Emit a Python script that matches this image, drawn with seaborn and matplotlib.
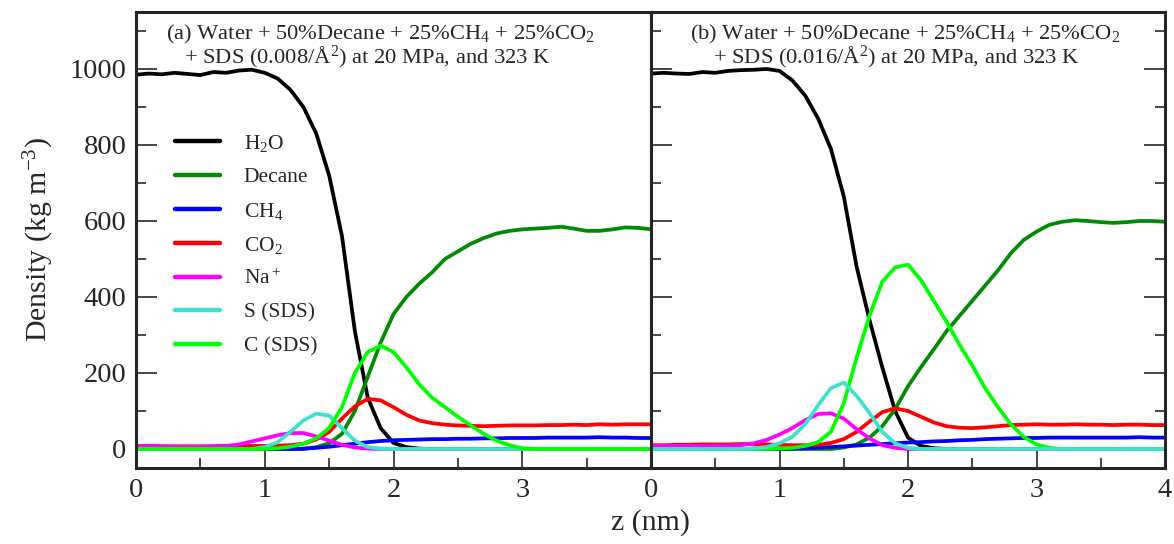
import numpy as np
import pandas as pd
import matplotlib
matplotlib.use("Agg")
import matplotlib.pyplot as plt
from matplotlib.ticker import MultipleLocator
import seaborn as sns

# ---------------- data ----------------
z = np.round(np.arange(0, 4.0001, 0.1), 2)

labels = ["H$_2$O", "Decane", "CH$_4$", "CO$_2$", "Na$^+$", "S (SDS)", "C (SDS)"]
colors = ["#000000", "#008b00", "#0000ff", "#ff0000", "#ff00ff", "#40e0d0", "#00ff00"]

# panel (a)
h2o_a = [985, 988, 986, 990, 987, 984, 992, 990, 996, 998, 990, 975, 945, 900, 830, 720,
         560, 310, 135, 55, 16, 5, 1] + [0] * 18
decane_a = [0] * 14 + [5, 15, 40, 100, 190, 280, 355, 400, 435, 465, 500, 520, 540, 555, 567,
                       574, 578, 580, 582, 585, 580, 574, 574, 578, 583, 582, 578]
ch4_a = [0] * 13 + [1, 3, 6, 10, 14, 18, 21, 23, 24, 25, 26, 26, 27, 27, 28, 28, 29, 29, 29,
                    30, 30, 30, 30, 31, 30, 30, 29, 29]
co2_a = [8, 8, 7, 7, 7, 7, 7, 8, 8, 8, 8, 9, 10, 14, 25, 45, 80, 112, 132, 128, 110, 90, 75,
         68, 64, 62, 61, 60, 61, 62, 62, 62, 63, 63, 64, 63, 65, 64, 65, 65, 65]
na_a = [8, 8, 7, 6, 6, 6, 7, 8, 12, 20, 28, 36, 42, 42, 33, 22, 11, 4, 1] + [0] * 22
s_a = [0] * 10 + [5, 18, 45, 75, 93, 88, 55, 22, 5, 1] + [0] * 21
c_a = [0] * 11 + [2, 6, 14, 28, 55, 110, 200, 255, 272, 255, 215, 170, 135, 110, 85, 62, 40,
                  22, 10, 2] + [0] * 10

# panel (b)
h2o_b = [988, 990, 988, 987, 992, 990, 995, 997, 998, 1000, 995, 970, 930, 870, 790, 665,
         480, 340, 215, 100, 30, 8, 2] + [0] * 18
decane_b = [0] * 15 + [4, 12, 30, 60, 105, 165, 215, 262, 310, 350, 390, 430, 470, 515, 550,
                       572, 590, 598, 602, 600, 597, 595, 597, 600, 600, 598]
ch4_b = [0] * 11 + [1, 2, 4, 5, 7, 9, 11, 13, 15, 17, 18, 20, 21, 23, 24, 26, 27, 28, 29, 29,
                    30, 30, 30, 30, 30, 30, 30, 31, 30, 30]
co2_b = [10, 10, 11, 11, 12, 12, 12, 13, 13, 12, 11, 10, 10, 11, 16, 26, 45, 72, 97, 107, 100,
         85, 70, 60, 56, 55, 57, 60, 63, 64, 65, 64, 64, 65, 64, 64, 63, 64, 64, 63, 63]
na_b = [8, 8, 8, 8, 8, 8, 9, 10, 15, 24, 38, 55, 76, 92, 94, 80, 52, 28, 10, 3] + [0] * 21
s_b = [0] * 8 + [2, 5, 15, 32, 65, 115, 160, 175, 140, 95, 45, 15, 3] + [0] * 20
c_b = [0] * 10 + [1, 3, 8, 18, 45, 120, 240, 350, 440, 478, 485, 445, 390, 335, 275, 220, 160,
                  110, 65, 32, 12, 3] + [0] * 9

title_a = ["(a) Water + 50%Decane + 25%CH$_4$ + 25%CO$_2$",
           "+ SDS (0.008/Å$^2$) at 20 MPa, and 323 K"]
title_b = ["(b) Water + 50%Decane + 25%CH$_4$ + 25%CO$_2$",
           "+ SDS (0.016/Å$^2$) at 20 MPa, and 323 K"]

# ---------------- style ----------------
sns.set_style("ticks")
plt.rcParams["font.family"] = ["Liberation Serif", "DejaVu Serif"]
plt.rcParams["mathtext.fontset"] = "custom"
plt.rcParams["mathtext.rm"] = "Liberation Serif"
plt.rcParams["mathtext.it"] = "Liberation Serif:italic"
plt.rcParams["mathtext.bf"] = "Liberation Serif:bold"

fig = plt.figure(figsize=(11.74, 5.44), dpi=100)
W, H = 1174, 544
ax1 = fig.add_axes([136 / W, 1 - 468 / H, 515 / W, 456 / H])
ax2 = fig.add_axes([651 / W, 1 - 468 / H, 514 / W, 456 / H])

series_a = [h2o_a, decane_a, ch4_a, co2_a, na_a, s_a, c_a]
series_b = [h2o_b, decane_b, ch4_b, co2_b, na_b, s_b, c_b]

LW = 2.7
for i, ys in enumerate(series_a):
    sns.lineplot(x=z, y=ys, ax=ax1, color=colors[i], lw=LW, label=labels[i], sort=False)
order_b = [0, 1, 2, 3, 4, 6, 5]
for i in order_b:
    sns.lineplot(x=z, y=series_b[i], ax=ax2, color=colors[i], lw=LW, sort=False, legend=False)

for ax in (ax1, ax2):
    ax.set_xlim(0, 4)
    ax.set_ylim(-50, 1150)
    ax.xaxis.set_major_locator(MultipleLocator(1))
    ax.xaxis.set_minor_locator(MultipleLocator(0.5))
    ax.yaxis.set_major_locator(MultipleLocator(200))
    ax.yaxis.set_minor_locator(MultipleLocator(100))
    ax.tick_params(which="both", direction="in", width=1.2, labelsize=20.5, pad=7)
    ax.tick_params(which="major", length=15)
    ax.tick_params(which="minor", length=7.5)
    for sp in ax.spines.values():
        sp.set_linewidth(2.2)
        sp.set_visible(True)
    ax.set_xlabel("")
    ax.set_ylabel("")

ax1.tick_params(which="both", left=True, right=False, top=False, bottom=True)
ax1.set_xticks([0, 1, 2, 3])
ax1.set_xticklabels(["0", "1", "2", "3"])
ax2.tick_params(which="both", left=True, right=True, top=False, bottom=True,
                labelleft=False)

ax1.set_ylabel("Density (kg m$^{-3}$)", fontsize=21.5, labelpad=10)
fig.text((136 + 1165) / 2 / W, 1 - 523 / H, "z (nm)", ha="center", va="center",
         fontsize=21.5)

TS = 16.2
ax1.text(0.474, 0.940, title_a[0], transform=ax1.transAxes, ha="center", va="baseline",
         fontsize=TS)
ax1.text(0.449, 0.886, title_a[1], transform=ax1.transAxes, ha="center", va="baseline",
         fontsize=TS)
ax2.text(0.494, 0.940, title_b[0], transform=ax2.transAxes, ha="center", va="baseline",
         fontsize=TS)
ax2.text(0.477, 0.886, title_b[1], transform=ax2.transAxes, ha="center", va="baseline",
         fontsize=TS)

leg = ax1.legend(loc="upper left", bbox_to_anchor=(0.0757, 0.735), frameon=False,
                 fontsize=15.5, handlelength=2.1, handletextpad=1.1, labelspacing=0.62,
                 borderpad=0, borderaxespad=0)
for lh in leg.get_lines():
    lh.set_linewidth(3.2)

fig.savefig("out.png", dpi=100)
